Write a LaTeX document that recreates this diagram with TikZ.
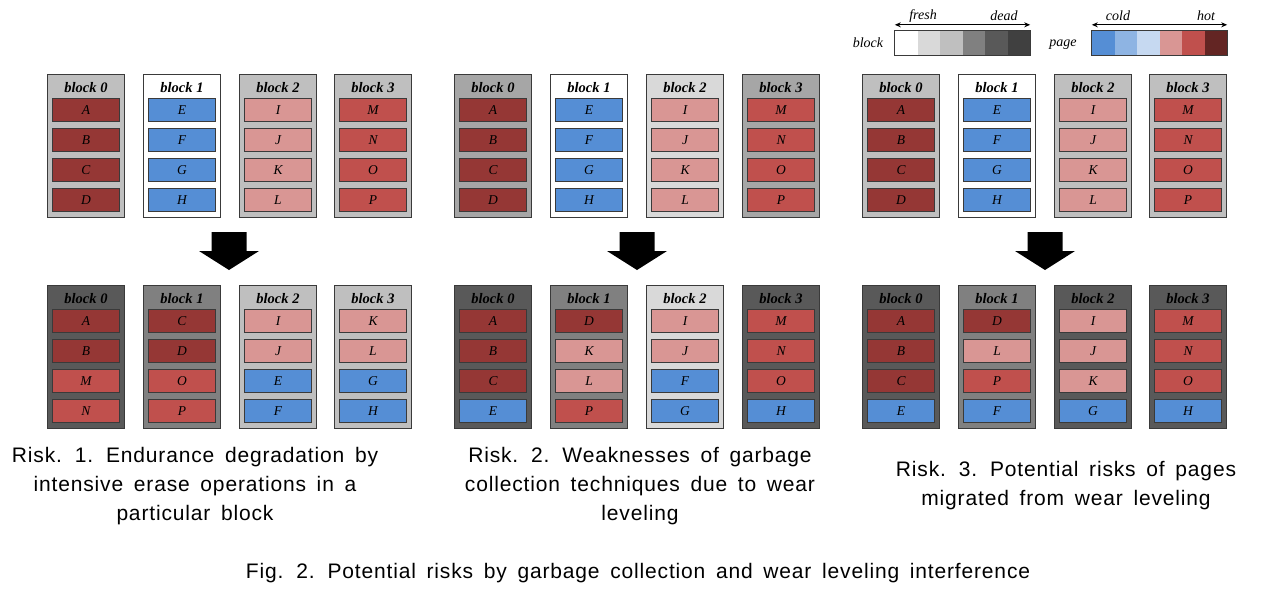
\documentclass[tikz,border=0pt]{standalone}
\usepackage{fontspec}
\setmainfont{Liberation Serif}
\newfontfamily\capfont[LetterSpace=4,WordSpace=1.6]{Liberation Sans}
\usetikzlibrary{positioning,arrows.meta}
% page heat
\definecolor{hot}{HTML}{953735}
\definecolor{warm}{HTML}{C0504D}
\definecolor{mild}{HTML}{D99694}
\definecolor{tepid}{HTML}{C6D9F1}
\definecolor{cool}{HTML}{8EB4E3}
\definecolor{cold}{HTML}{558ED5}
\definecolor{burnt}{HTML}{632523}
% block wear
\definecolor{g0}{HTML}{FFFFFF}
\definecolor{g1}{HTML}{D9D9D9}
\definecolor{g2}{HTML}{BFBFBF}
\definecolor{g25}{HTML}{A6A6A6}
\definecolor{g3}{HTML}{808080}
\definecolor{g4}{HTML}{595959}
\definecolor{g5}{HTML}{404040}
\definecolor{edge}{HTML}{3A3A3A}

\begin{document}
\begin{tikzpicture}[x=1pt,y=-1pt,
  blk/.style={draw=edge,line width=1.2pt,minimum width=77pt,minimum height=143pt,inner sep=0pt},
  btitle/.style={inner sep=0pt,font=\fontsize{14.5}{14.5}\selectfont\bfseries\itshape},
  pg/.style={draw=edge,line width=1.2pt,minimum width=67pt,minimum height=23pt,inner sep=0pt,font=\fontsize{13.5}{13.5}\selectfont\itshape},
  cell/.style={minimum width=22.5pt,minimum height=24pt,inner sep=0pt},
  lgtxt/.style={inner sep=0pt,font=\fontsize{14}{14}\selectfont\itshape},
  risk/.style={inner sep=0pt,align=center,font=\capfont\fontsize{21}{29}\selectfont},
  ar/.style={{Stealth[length=6pt,width=5pt]}-{Stealth[length=6pt,width=5pt]},line width=0.9pt}]
\useasboundingbox (0,0) rectangle (1272,590);

% blocks: name/x/top/fill/number/pages
\foreach \n/\cx/\ty/\bf/\bn/\pp in {
  t1b0/86/74/g2/0/{hot/A,hot/B,hot/C,hot/D},
  t1b1/182/74/g0/1/{cold/E,cold/F,cold/G,cold/H},
  t1b2/278/74/g2/2/{mild/I,mild/J,mild/K,mild/L},
  t1b3/373/74/g2/3/{warm/M,warm/N,warm/O,warm/P},
  b1b0/86/285/g4/0/{hot/A,hot/B,warm/M,warm/N},
  b1b1/182/285/g3/1/{hot/C,hot/D,warm/O,warm/P},
  b1b2/278/285/g2/2/{mild/I,mild/J,cold/E,cold/F},
  b1b3/373/285/g2/3/{mild/K,mild/L,cold/G,cold/H},
  t2b0/493/74/g25/0/{hot/A,hot/B,hot/C,hot/D},
  t2b1/589/74/g0/1/{cold/E,cold/F,cold/G,cold/H},
  t2b2/685/74/g1/2/{mild/I,mild/J,mild/K,mild/L},
  t2b3/781/74/g25/3/{warm/M,warm/N,warm/O,warm/P},
  b2b0/493/285/g4/0/{hot/A,hot/B,hot/C,cold/E},
  b2b1/589/285/g3/1/{hot/D,mild/K,mild/L,warm/P},
  b2b2/685/285/g1/2/{mild/I,mild/J,cold/F,cold/G},
  b2b3/781/285/g4/3/{warm/M,warm/N,warm/O,cold/H},
  t3b0/901/74/g2/0/{hot/A,hot/B,hot/C,hot/D},
  t3b1/997/74/g0/1/{cold/E,cold/F,cold/G,cold/H},
  t3b2/1093/74/g2/2/{mild/I,mild/J,mild/K,mild/L},
  t3b3/1188/74/g2/3/{warm/M,warm/N,warm/O,warm/P},
  b3b0/901/285/g4/0/{hot/A,hot/B,hot/C,cold/E},
  b3b1/997/285/g3/1/{hot/D,mild/L,warm/P,cold/F},
  b3b2/1093/285/g4/2/{mild/I,mild/J,mild/K,cold/G},
  b3b3/1188/285/g4/3/{warm/M,warm/N,warm/O,cold/H}}{
  \node[blk,fill=\bf] (\n) at (\cx,\ty+72) {};
  \node[btitle] (\n-t) at (\cx,\ty+14) {block \bn};
  \foreach \c/\l [count=\k] in \pp
    \node[pg,fill=\c] (\n-\k) at (\cx,\ty+6+30*\k) {\l};
}

% big arrows
\foreach \ax in {229,637,1045}
  \fill (\ax-17.5,232) -- (\ax+17.5,232) -- (\ax+17.5,251) -- (\ax+30,251)
    -- (\ax,270) -- (\ax-30,251) -- (\ax-17.5,251) -- cycle;

% legend
\foreach \c [count=\k] in {g0,g1,g2,g3,g4,g5}
  \node[cell,fill=\c] (lb\k) at (883.75+22.5*\k,43) {};
\foreach \c [count=\k] in {cold,cool,tepid,mild,warm,burnt}
  \node[cell,fill=\c] (lp\k) at (1080.75+22.5*\k,43) {};
\draw[edge,line width=1.2pt] (lb1.north west) rectangle (lb6.south east);
\draw[edge,line width=1.2pt] (lp1.north west) rectangle (lp6.south east);
\draw[ar] ([yshift=6pt]lb1.north west) -- ([yshift=6pt]lb6.north east);
\draw[ar] ([yshift=6pt]lp1.north west) -- ([yshift=6pt]lp6.north east);
\node[lgtxt] (lbk) at (868,43) {block};
\node[lgtxt] (lpg) at (1063,45) {page};
\node[lgtxt] (fresh) at (923,16) {fresh};
\node[lgtxt] (dead) at (1004,16) {dead};
\node[lgtxt] (coldt) at (1118,16) {cold};
\node[lgtxt] (hott) at (1206,16) {hot};

% captions
\node[risk] (r1) at (195,486) {Risk. 1. Endurance degradation by\\intensive erase operations in a\\particular block};
\node[risk] (r2) at (640,486) {Risk. 2. Weaknesses of garbage\\collection techniques due to wear\\leveling};
\node[risk] (r3) at (1066,486) {Risk. 3. Potential risks of pages\\migrated from wear leveling};
\node[risk] (fig) at (638,573) {Fig. 2. Potential risks by garbage collection and wear leveling interference};
\end{tikzpicture}
\end{document}
